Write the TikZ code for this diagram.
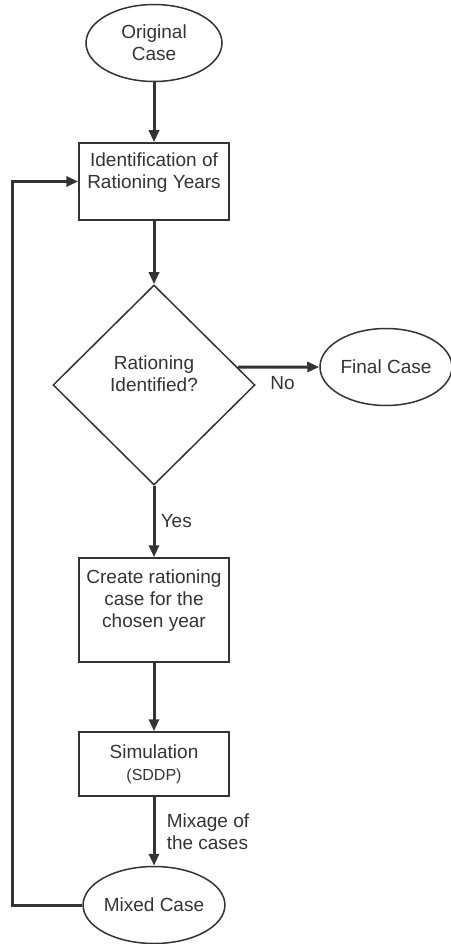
\documentclass[tikz,border=0pt]{standalone}
\usepackage{fontspec}
\setmainfont{Liberation Sans}
\usetikzlibrary{shapes.geometric,arrows.meta}
\definecolor{ink}{HTML}{333333}
\begin{document}
\begin{tikzpicture}
  [x=1pt,y=-1pt,every node/.style={draw=ink,line width=1.5pt,text=ink,align=center,inner sep=0pt,
     font=\fontsize{19}{22}\selectfont},
   term/.style={ellipse,minimum width=136,minimum height=77},
   stepbox/.style={rectangle,minimum width=150},
   flow/.style={draw=ink,line width=3pt,-{Triangle[length=12pt,width=10pt]}},
   lab/.style={draw=none,fill=none}]
  \useasboundingbox (0,0) rectangle (450,944);

  \node (orig) at (154,43) [term] {Original\\Case};
  \node (ident) at (154,181.5) [stepbox,minimum height=77] {Identification of\\Rationing Years\\\mbox{}};
  \node (dia) at (154,385) [diamond,minimum width=202,minimum height=200] {Rationing\\Identified?\\\mbox{}};
  \node (final) at (386,367) [term,minimum width=132] {Final Case};
  \node (create) at (154,610) [stepbox,minimum height=104] {Create rationing\\case for the\\chosen year\\\mbox{}};
  \node (sim) at (154,764) [stepbox,minimum height=64] {Simulation\\{\fontsize{16}{22}\selectfont(SDDP)}};
  \node (mixed) at (154,905) [term] {Mixed Case};
  \coordinate (back) at (12,181.5);

  \foreach \from/\to in {orig/ident, ident/dia, create/sim}
    \draw[flow] (\from) -- (\to);

  \draw[flow] (dia.12) -- (final.west) node[lab,midway,below=9pt,xshift=4pt] (no) {No};
  \draw[flow] (dia.south) -- (create.north) node[lab,midway,right=6pt] (yes) {Yes};
  \draw[flow] (sim.south) -- (mixed.north) node[lab,midway,right=12pt,align=left] (mix) {Mixage of\\the cases};
  \draw[flow] (mixed.west) -| (back) -- (ident.west);

 \end{tikzpicture}
\end{document}
